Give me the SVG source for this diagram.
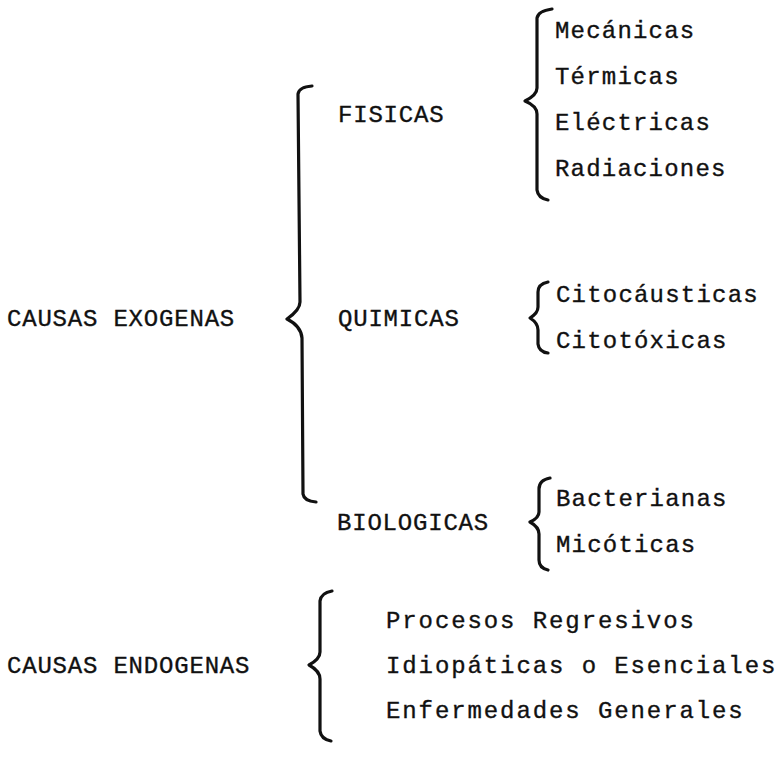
<svg xmlns="http://www.w3.org/2000/svg" width="779" height="757" viewBox="0 0 779 757">
<style>
text{font-family:"Liberation Mono","DejaVu Sans Mono",monospace;font-size:24px;fill:#111;stroke:#111;stroke-width:0.35;letter-spacing:0.8px}
.r{letter-spacing:1.2px}
.e{letter-spacing:1.9px}
.b{fill:none;stroke:#111;stroke-width:3.2;stroke-linecap:round;stroke-linejoin:round}
</style>
<rect width="779" height="757" fill="#fff"/>
<g id="connectors">
<path class="b" d="M312,86 Q299,87 298,94 L300,302 Q300,310 287,319 Q301,326 302,338 L303,494 Q304,501 316,502"/>
<path class="b" d="M552,9 Q538,11 537,18 L537,88 Q537,95 525,101 Q537,106 537,114 L537,190 Q538,198 548,200"/>
<path class="b" d="M548,282 Q538,284 538,292 L538,307 Q538,313 530,318 Q538,323 538,330 L538,344 Q539,352 548,353"/>
<path class="b" d="M550,478 Q539,480 539,489 L539,512 Q539,518 530,522 Q539,527 539,534 L539,560 Q539,568 548,570"/>
<path class="b" d="M332,591 Q321,593 320,601 L320,652 Q320,659 309,665 Q320,671 320,679 L320,731 Q321,739 331,741"/>
</g>
<g id="causas-exogenas"><text x="7" y="326">CAUSAS EXOGENAS</text></g>
<g id="fisicas"><text x="338" y="122">FISICAS</text></g>
<g id="quimicas"><text x="338" y="326">QUIMICAS</text></g>
<g id="biologicas"><text x="337" y="530">BIOLOGICAS</text></g>
<g id="mecanicas"><text class="r" x="555" y="38">Mecánicas</text></g>
<g id="termicas"><text class="r" x="555" y="84">Térmicas</text></g>
<g id="electricas"><text class="r" x="555" y="130">Eléctricas</text></g>
<g id="radiaciones"><text class="r" x="555" y="176">Radiaciones</text></g>
<g id="citocausticas"><text class="r" x="556" y="302">Citocáusticas</text></g>
<g id="citotoxicas"><text class="r" x="556" y="348">Citotóxicas</text></g>
<g id="bacterianas"><text class="r" x="556" y="506">Bacterianas</text></g>
<g id="micoticas"><text class="r" x="556" y="552">Micóticas</text></g>
<g id="causas-endogenas"><text x="7" y="673">CAUSAS ENDOGENAS</text></g>
<g id="procesos-regresivos"><text class="e" x="386" y="628">Procesos Regresivos</text></g>
<g id="idiopaticas"><text class="e" x="386" y="673">Idiopáticas o Esenciales</text></g>
<g id="enfermedades-generales"><text class="e" x="386" y="718">Enfermedades Generales</text></g>
</svg>
